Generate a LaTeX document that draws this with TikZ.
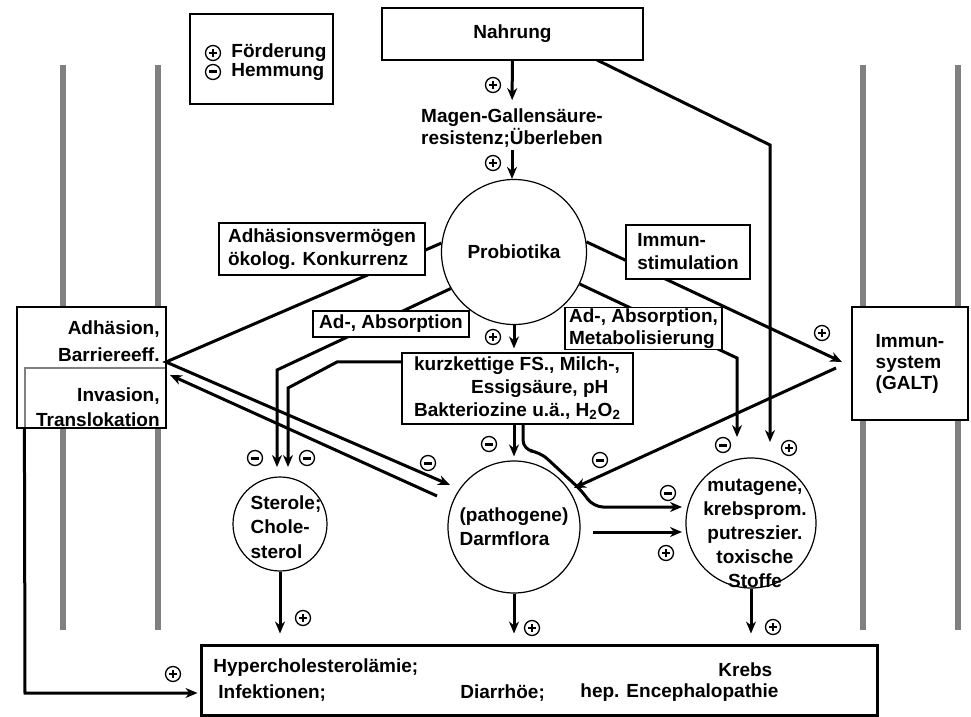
\documentclass[tikz,border=0pt]{standalone}
\usepackage{fontspec}
\setmainfont{Liberation Sans}
\usetikzlibrary{arrows.meta, backgrounds}

\begin{document}
\begin{tikzpicture}[x=0.5pt, y=-0.5pt,
  font=\fontsize{9.5}{11.5}\selectfont\bfseries,
  box/.style={rectangle, draw, line width=0.6pt, fill=white, inner sep=1pt, align=left},
  kreis/.style={circle, draw, line width=0.6pt, fill=white, inner sep=0pt, align=left},
  txt/.style={inner sep=1pt, align=left},
  arrow/.style={-{Stealth[length=6pt, width=5pt]}, line width=1.5pt},
  wall/.style={line width=3pt, draw=black!50},
  sgn/.style={circle, draw, line width=0.65pt, fill=white, minimum size=7.5pt, inner sep=0pt},
  foerd/.style={sgn, path picture={
    \fill[black] ([shift={(-2.2pt,-0.65pt)}]path picture bounding box.center) rectangle ([shift={(2.2pt,0.65pt)}]path picture bounding box.center);
    \fill[black] ([shift={(-0.65pt,-2.2pt)}]path picture bounding box.center) rectangle ([shift={(0.65pt,2.2pt)}]path picture bounding box.center);}},
  hemm/.style={sgn, path picture={
    \fill[black] ([shift={(-1.9pt,-0.75pt)}]path picture bounding box.center) rectangle ([shift={(1.9pt,0.75pt)}]path picture bounding box.center);}}
]
\useasboundingbox (0,0) rectangle (971,717);

% Legende
\node[box, minimum width=71.5pt, minimum height=45pt] (legend) at (261.5,59) {};
\node[foerd] (legP) at (213,53) {};
\node[txt, anchor=west] (legPt) at (229,53) {Förderung};
\node[hemm] (legM) at (213,72) {};
\node[txt, anchor=west] (legMt) at (229,72) {Hemmung};

% Nahrung
\node[box, minimum width=130.5pt, minimum height=26pt, align=center] (nahrung) at (512.5,34) {Nahrung};
\node[txt, align=center, font=\fontsize{9.5}{10}\selectfont\bfseries] (magen) at (512,128) {Magen-Gallensäure-\\resistenz;Überleben};

% Probiotika
\node[kreis, minimum size=72.5pt] (probio) at (514,252) {Probiotika};

% Beschriftungen auf den Linien
\node[box, minimum width=103pt, minimum height=26pt] (adhv) at (322,249) {Adhäsionsvermögen\\ökolog. Konkurrenz};
\node[box, minimum width=78pt, minimum height=13pt] (adabs) at (391,324) {Ad-, Absorption};
\node[box, minimum width=62pt, minimum height=27pt] (immstim) at (688,252) {Immun-\\stimulation};
\node[box, minimum width=78.5pt, minimum height=20.5pt, inner sep=0.5pt, font=\fontsize{9.5}{11}\selectfont\bfseries] (metab) at (643.5,328.5) {Ad-, Absorption,\\Metabolisierung};
\node[box, minimum width=115.5pt, minimum height=35.5pt] (kurz) at (517.5,388.5) {kurzkettige FS., Milch-,\\\hspace*{3em}Essigsäure, pH\\Bakteriozine u.ä., H\textsubscript{2}O\textsubscript{2}};

% Darmwand links
\node[box, fill=none, draw=black!50, minimum width=70.5pt, minimum height=30pt] (inv) at (95.5,398) {};
\node[box, fill=none, minimum width=74.5pt, minimum height=60.5pt] (adh) at (91.5,367.5) {};
\node[txt, anchor=east, align=right, font=\fontsize{9.5}{13.5}\selectfont\bfseries] (adhTxt) at (162,341.5) {Adhäsion,\\Barriereeff.};
\node[txt, anchor=east, align=right, font=\fontsize{9.5}{12.5}\selectfont\bfseries] (invTxt) at (162,407.5) {Invasion,\\Translokation};

% Immunsystem
\node[box, minimum width=58pt, minimum height=56.5pt, font=\fontsize{9.5}{10.5}\selectfont\bfseries] (immsys) at (910,363.5) {Immun-\\system\\(GALT)};

% Kreise unten
\node[kreis, minimum size=47pt] (sterol) at (280,524) {};
\node[txt, font=\fontsize{9.5}{12.25}\selectfont\bfseries] (sterolTxt) at (286,527) {Sterole;\\Chole-\\sterol};
\node[kreis, minimum size=66pt, font=\fontsize{9.5}{12}\selectfont\bfseries] (darm) at (514,527) {(pathogene)\\Darmflora};
\node[kreis, minimum size=65pt] (mut) at (751,523) {};
\node[txt, align=center, font=\fontsize{9.5}{12}\selectfont\bfseries] (mutTxt) at (755,533) {mutagene,\\krebsprom.\\putreszier.\\toxische\\Stoffe};

% Krankheiten
\node[box, line width=1.5pt, minimum width=338pt, minimum height=35pt] (dis) at (539,680) {};
\node[txt, anchor=west] (hyper) at (211,668) {Hypercholesterolämie;};
\node[txt, anchor=west] (infek) at (216,693) {Infektionen;};
\node[txt, anchor=west] (diarr) at (458,693) {Diarrhöe;};
\node[txt, anchor=west] (hep) at (578,693) {hep. Encephalopathie};
\node[txt, anchor=west] (krebs) at (716,670) {Krebs};

% Zeichen
\foreach \px/\py [count=\i] in {493/85, 493/163, 493/337, 666/553, 789/448, 822/333, 303/618, 532/628, 773/627, 173/674}
  \node[foerd] (plus\i) at (\px,\py) {};
\foreach \px/\py [count=\i] in {255/458, 307/458, 428/463, 489/444, 600/460, 668/493, 723/445}
  \node[hemm] (minus\i) at (\px,\py) {};

% Hilfspunkte
\coordinate (adhR) at (166,362);
\coordinate (adhR2) at (170,375);
\coordinate (darmIn) at (450,485);
\coordinate (darmOut) at (437,496);
\coordinate (immR) at (842,362);
\coordinate (immR2) at (836,368);
\coordinate (darmIn2) at (574,488);
\coordinate (stA) at (277,370);
\coordinate (stAend) at (277,467);
\coordinate (kzA) at (403,362);
\coordinate (stB) at (288,388);
\coordinate (stBend) at (288,467);
\coordinate (kzB) at (523,424);
\coordinate (mutIn1) at (682,507);
\coordinate (darmE) at (593,532);
\coordinate (mutIn2) at (682,532);
\coordinate (metB) at (737,358);
\coordinate (metEnd) at (737,437);
\coordinate (nahrB) at (597,60);
\coordinate (nahrK) at (770,145);
\coordinate (nahrEnd) at (770,442);
\coordinate (lB) at (25,693);

\begin{pgfonlayer}{background}
\fill[white] (0,0) rectangle (971,717);
% Darmwand
\foreach \wx in {63,158,863,958}
  \draw[wall] (\wx,65) -- (\wx,630);
\fill[white] (adh.north west) rectangle (adh.south east);

% Verbindungen
\draw[arrow, shorten >=3pt] (nahrung) -- (magen);
\draw[arrow] (magen.south) -- (magen.south |- probio.north);
\draw[arrow, shorten >=2pt] (probio.south) -- (probio.south |- kurz.north);
\draw[arrow] (probio.173) -- (adhR) -- (darmIn);
\draw[arrow] (darmOut) -- (adhR2);
\draw[arrow] (probio.210) -- (stA) -- (stAend);
\draw[arrow] (kzA) -- (337,362) -- (stB) -- (stBend);
\draw[arrow, shorten >=2pt] (darm.north |- kurz.south) -- (darm.north);
\draw[arrow, rounded corners=5pt] (kzB) -- (523,450) -- (540,452) -- (583,492) -- (593,507) -- (mutIn1);
\draw[arrow] (darmE) -- (mutIn2);
\draw[arrow] (probio.8) -- (immR);
\draw[arrow] (immR2) -- (darmIn2);
\draw[arrow] (probio.-26) -- (720,350) -- (metB) -- (metEnd);
\draw[arrow] (nahrB) -- (nahrK) -- (nahrEnd);
\draw[arrow, shorten >=5pt] (sterol) -- (sterol |- dis.north);
\draw[arrow, shorten >=5pt] (darm) -- (darm |- dis.north);
\draw[arrow, shorten >=5pt] (mut) -- (mut |- dis.north);
\draw[arrow, shorten >=1pt] (inv.south west) -- (lB) -- (dis.west |- lB);
\end{pgfonlayer}

\end{tikzpicture}
\end{document}
